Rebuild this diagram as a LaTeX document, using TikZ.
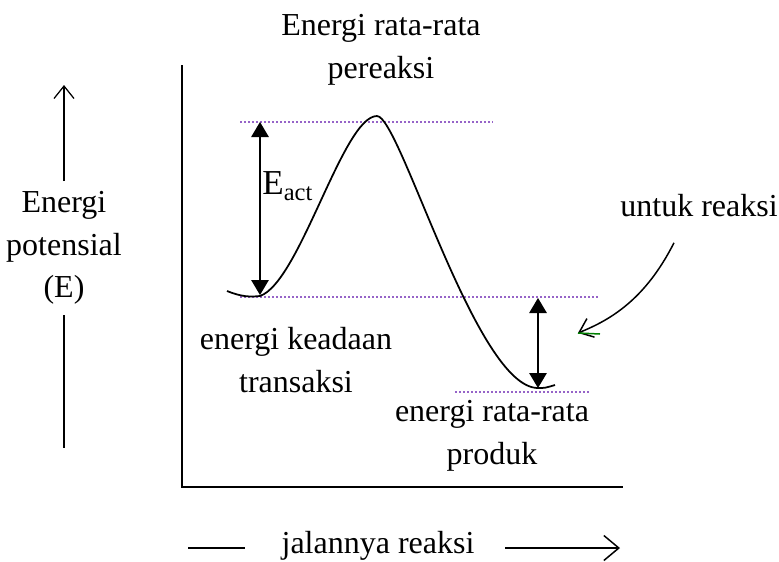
\documentclass[tikz,border=0pt]{standalone}
\usepackage{fontspec}
\setmainfont{Liberation Serif}
\usepackage{tikz}
\usetikzlibrary{arrows.meta,positioning}

\definecolor{dotpurple}{RGB}{150,100,200}

\begin{document}
\begin{tikzpicture}[x=0.4pt,y=-0.4pt, every node/.style={font=\fontsize{12.8}{17}\selectfont, align=center, inner sep=0pt},
  dots/.style={dotpurple, line width=0.8pt, dash pattern=on 0.8pt off 0.8pt},
  dimarrow/.style={{Triangle[length=6pt,width=7pt]}-{Triangle[length=6pt,width=7pt]}, line width=0.5pt}]
\useasboundingbox (0,0) rectangle (779,561);
% axes
\coordinate (o) at (182,487);
\draw[line width=0.7pt] (182,65) -- (o) -- (623,487);
% labels
\node (top) at (381,50) {Energi rata-rata\\pereaksi};
\node (elab) at (64,248) {Energi\\potensial\\(E)};
\coordinate (eup) at (64,85); \coordinate (edown) at (64,448);
\draw[-{Straight Barb[length=5pt,width=8pt]}, line width=0.5pt] ([yshift=4pt]elab.north) -- (eup);
\draw[line width=0.5pt] ([yshift=-4pt]elab.south) -- (edown);
\node (trans) at (296,360) {energi keadaan\\transaksi};
\node (prod) at (492,436) {energi rata-rata\\produk};
\node (untuk) at (699,206) {untuk reaksi};
\node (eact) at (288,186) {\fontsize{14}{17}\selectfont E\textsubscript{act}};
% levels
\coordinate (pk) at (377,116); \coordinate (r) at (260,296); \coordinate (p) at (538,388);
\draw[dots] (240,122) -- (493,122);
\draw[dots] (240,297) -- (598,297);
\draw[dots] (455,392) -- (590,392);
% energy curve
\draw[line width=0.7pt] (227,291) .. controls (242,297) and (250,297) .. (r)
  .. controls (300,282) and (343,116) .. (pk)
  .. controls (400,116) and (476,388) .. (p)
  .. controls (545,388) .. (555,385);
% differences
\coordinate (a1) at (260,122); \coordinate (a2) at (260,295);
\draw[dimarrow] (a2) -- (a1);
\coordinate (b1) at (538,298); \coordinate (b2) at (538,388);
\draw[dimarrow] (b2) -- (b1);
% pointer
\coordinate (ptip) at (578,333); \coordinate (pend) at (600,334);
\draw[-{Straight Barb[length=5pt,width=8pt]}, line width=0.6pt] ([xshift=-10pt,yshift=-10pt]untuk.south) .. controls (645,300) and (610,320) .. (ptip);
\draw[green!50!black, line width=0.6pt] (ptip) -- (pend);
% reaction path
\node (jl) at (378,546) {jalannya reaksi};
\coordinate (jl1) at (188,548); \coordinate (jl2) at (245,548);
\coordinate (jr1) at (505,548); \coordinate (jr2) at (620,548);
\draw[line width=0.6pt] (jl1) -- (jl2);
\draw[-{Straight Barb[length=6pt,width=10pt]}, line width=0.6pt] (jr1) -- (jr2);
\end{tikzpicture}
\end{document}
